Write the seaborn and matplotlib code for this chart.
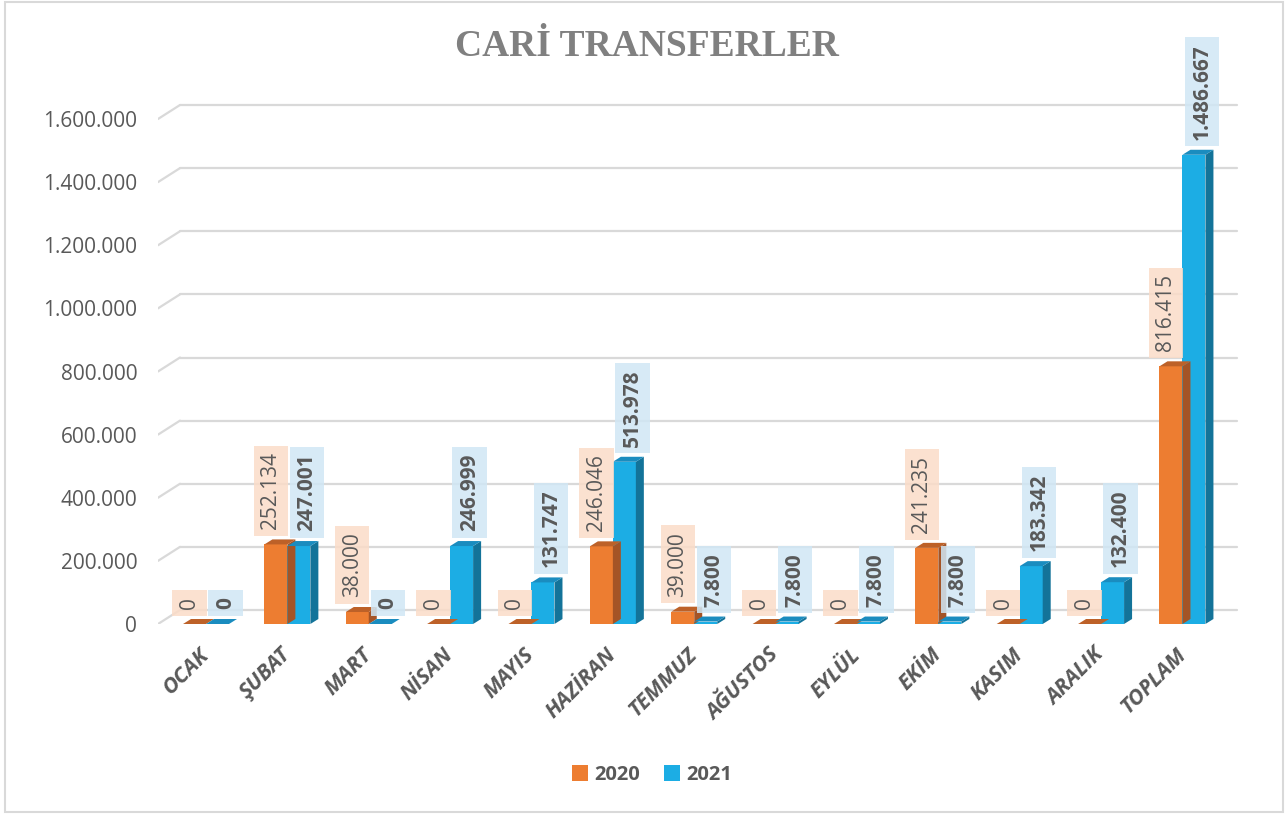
import numpy as np
import pandas as pd
import matplotlib
matplotlib.use("Agg")
import matplotlib.pyplot as plt
import matplotlib.transforms as mtransforms
from matplotlib.patches import Polygon, Patch, Rectangle
import seaborn as sns

# data
months = ["OCAK", "ŞUBAT", "MART", "NİSAN", "MAYIS", "HAZİRAN", "TEMMUZ",
          "AĞUSTOS", "EYLÜL", "EKİM", "KASIM", "ARALIK", "TOPLAM"]
years = ["2020", "2021"]
vals_2020 = [0, 252134, 38000, 0, 0, 246046, 39000, 0, 0, 241235, 0, 0, 816415]
vals_2021 = [0, 247001, 0, 246999, 131747, 513978, 7800, 7800, 7800, 7800,
             183342, 132400, 1486667]
y_ticks = [0, 200000, 400000, 600000, 800000, 1000000, 1200000, 1400000, 1600000]

df = pd.DataFrame({
    "ay": months * 2,
    "yil": ["2020"] * len(months) + ["2021"] * len(months),
    "deger": vals_2020 + vals_2021,
})

front = {"2020": "#ED7D31", "2021": "#1CADE4"}
top_c = {"2020": "#BD6128", "2021": "#1A8CBF"}
side_c = {"2020": "#A45426", "2021": "#137399"}
box_c = {"2020": "#FBDCC8", "2021": "#D0E7F5"}
grid_c = "#D9D9D9"
txt_c = "#595959"


def fmt(v):
    return f"{int(v):,}".replace(",", ".")


sns.set_theme(style="white")
plt.rcParams["font.family"] = ["Open Sans", "DejaVu Sans"]

W, H = 1285, 814
fig = plt.figure(figsize=(W / 100, H / 100), dpi=100)
# axes in pixels: left 158, right 1215, bottom(0) at 624, top at ~90
ax_l, ax_r, ax_b = 158, 1215, 624
ymax = 1700000
px_per_val = 505 / 1600000
ax_h = ymax * px_per_val
ax = fig.add_axes([ax_l / W, (H - ax_b) / H, (ax_r - ax_l) / W, ax_h / H])

sns.barplot(data=df, x="ay", y="deger", hue="yil", palette=front,
            width=0.565, ax=ax, saturation=1, edgecolor="none", linewidth=0,
            zorder=3)
ax.get_legend().remove()
ax.set_xlim(-0.59, 12.40)
ax.set_ylim(0, ymax)
for s in ax.spines.values():
    s.set_visible(False)
ax.set_xlabel("")
ax.set_ylabel("")

# pixel -> data conversions
px_x = (ax_r - ax_l) / (12.40 + 0.59)
dx = 8 / px_x
dy = 5 / px_per_val

# back wall gridlines with 3D slant
back = mtransforms.offset_copy(ax.transData, fig=fig, x=22, y=14, units="dots")
for t in y_ticks:
    ax.plot([-0.59, 12.40], [t, t], transform=back, color=grid_c, lw=1.6,
            clip_on=False, zorder=1)
    p0 = ax.transData.transform((-0.59, t))
    ax.add_line(plt.Line2D([p0[0], p0[0] + 22], [p0[1], p0[1] + 14],
                           transform=None, color=grid_c, lw=1.6, zorder=1))

# 3D faces and labels
for yr, cont in zip(years, ax.containers):
    for bar in cont:
        x0 = bar.get_x()
        w = bar.get_width()
        h = bar.get_height()
        ax.add_patch(Polygon([(x0 + w, 0), (x0 + w + dx, dy), (x0 + w + dx, h + dy), (x0 + w, h)],
                             closed=True, facecolor=side_c[yr], edgecolor="none", zorder=3))
        ax.add_patch(Polygon([(x0, h), (x0 + w, h), (x0 + w + dx, h + dy), (x0 + dx, h + dy)],
                             closed=True, facecolor=top_c[yr], edgecolor="none", zorder=3))
        off = -5 if yr == "2020" else 8
        tr = mtransforms.offset_copy(ax.transData, fig=fig, x=off, y=15, units="dots")
        ax.text(x0 + w / 2, h, fmt(h), transform=tr, rotation=90,
                ha="center", va="bottom", fontsize=15, color=txt_c,
                fontweight="bold" if yr == "2021" else "normal", zorder=5,
                bbox=dict(boxstyle="square,pad=0.32", facecolor=box_c[yr],
                          edgecolor="none", alpha=0.85))

ax.set_yticks(y_ticks)
ax.set_yticklabels([fmt(v) for v in y_ticks])
ax.tick_params(axis="y", length=0, pad=15, labelsize=15, labelcolor=txt_c)
ax.tick_params(axis="x", length=0, pad=20, labelcolor=txt_c)
for lab in ax.get_xticklabels():
    lab.set_rotation(45)
    lab.set_ha("right")
    lab.set_va("center")
    lab.set_rotation_mode("anchor")
    lab.set_fontsize(15.5)
    lab.set_fontweight("bold")
    lab.set_fontstyle("italic")

fig.text(0.5035, 1 - 46 / H, "CARİ TRANSFERLER", ha="center", va="center",
         fontsize=27, fontweight="bold", color="#808080",
         family=["Liberation Serif", "DejaVu Serif"])

handles = [Patch(facecolor=front[y], edgecolor="none", label=y) for y in years]
leg = fig.legend(handles=handles, loc="center", bbox_to_anchor=(652 / W, 1 - 775 / H),
                 ncol=2, frameon=False, handlelength=0.8, handleheight=0.8,
                 handletextpad=0.3, columnspacing=1.2,
                 prop={"size": 14.5, "weight": "bold"})
for t in leg.get_texts():
    t.set_color(txt_c)

fig.patches.append(Rectangle((5 / W, 2 / H), 1 - 7 / W, 1 - 4 / H, transform=fig.transFigure,
                             fill=False, edgecolor=grid_c, lw=1.5))

fig.savefig("out.png", dpi=100)
